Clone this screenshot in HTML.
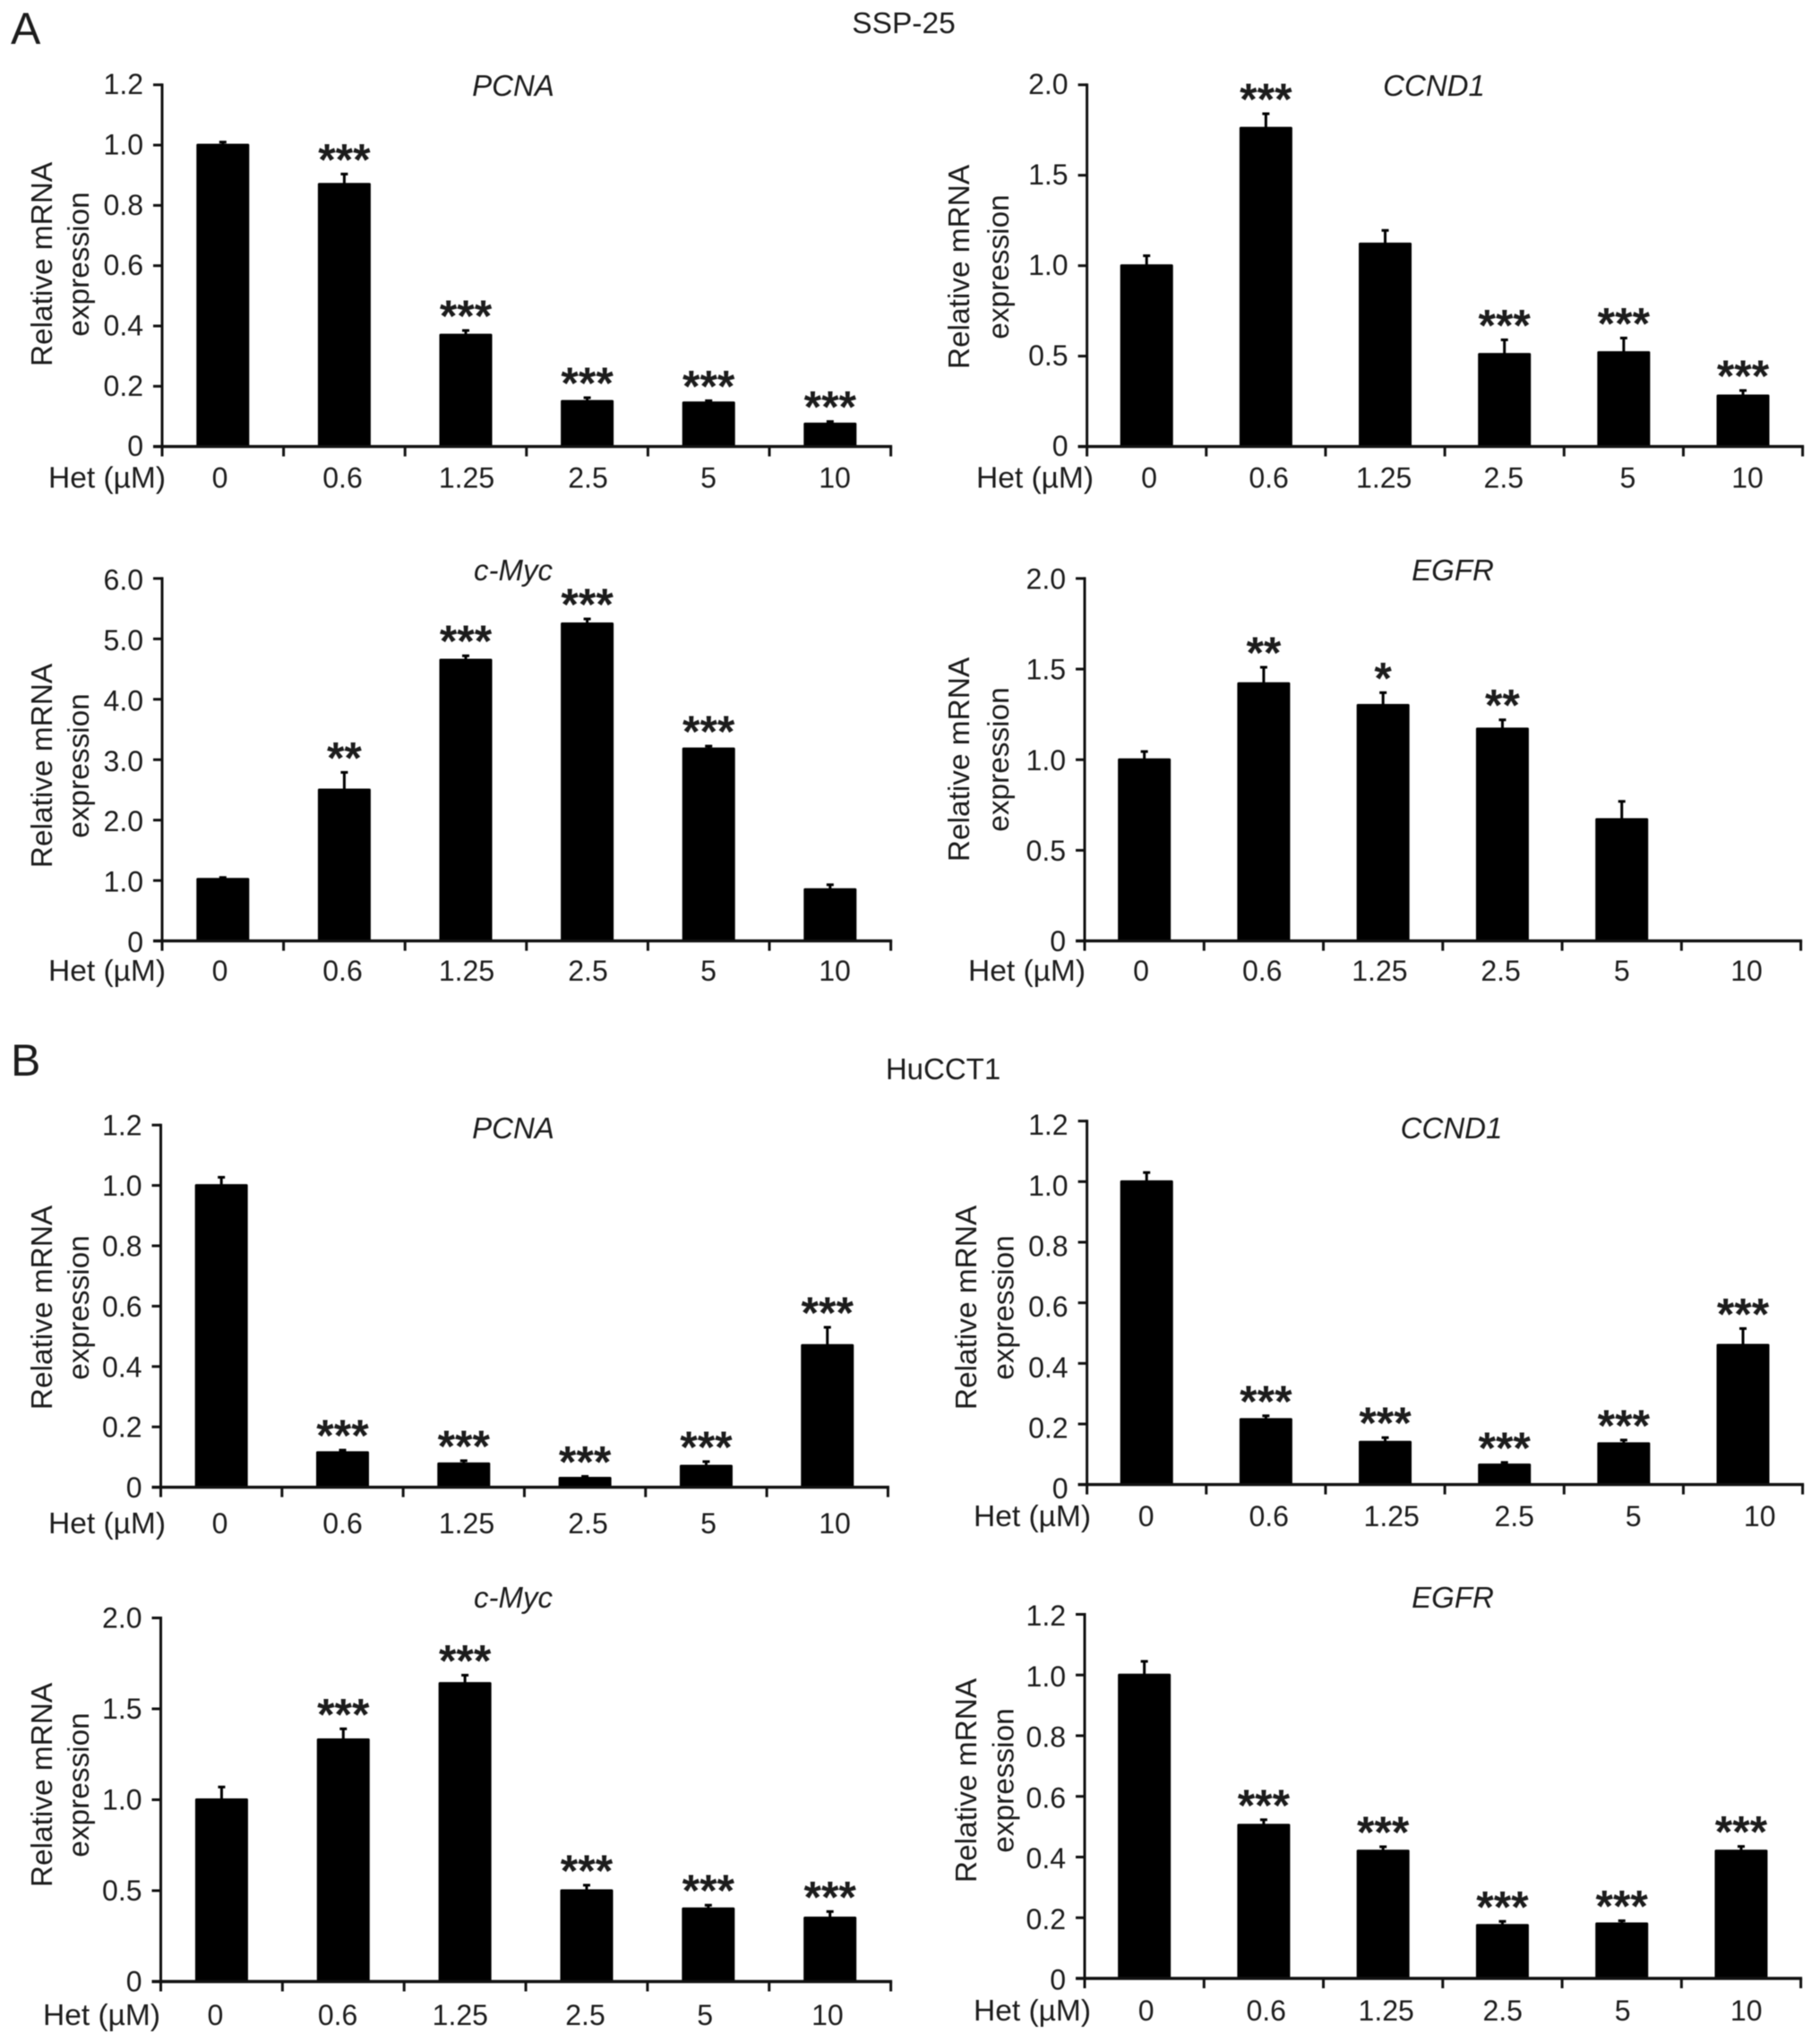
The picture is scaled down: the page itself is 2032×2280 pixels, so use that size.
<!DOCTYPE html>
<html lang="en">
<head>
<meta charset="utf-8">
<title>Relative mRNA expression in SSP-25 and HuCCT1</title>
<style>
html,body{margin:0;padding:0;background:#fff;}
#figure{display:block;width:2032px;height:2280px;font-family:"Liberation Sans",Arial,sans-serif;fill:#1c1c1c;filter:blur(0.5px);}
</style>
</head>
<body>
<svg id="figure" xmlns="http://www.w3.org/2000/svg" width="2032" height="2280" viewBox="0 0 2032 2280">
  <rect x="-5" y="-5" width="2042" height="2290" fill="#fff"/>
  <text x="12" y="49" font-size="50">A</text>
  <text x="12" y="1201" font-size="50">B</text>
  <text x="1009" y="37" font-size="33.5" text-anchor="middle">SSP-25</text>
  <text x="1053" y="1205" font-size="33" text-anchor="middle">HuCCT1</text>
</svg>
<script>
var doses = ['0', '0.6', '1.25', '2.5', '5', '10'];
var ticks12 = ['0', '0.2', '0.4', '0.6', '0.8', '1.0', '1.2'];
var ticks20 = ['0', '0.5', '1.0', '1.5', '2.0'];
var ticks60 = ['0', '1.0', '2.0', '3.0', '4.0', '5.0', '6.0'];

var sspPcnaValues = [1.0, 0.87, 0.37, 0.15, 0.145, 0.075];
var sspPcnaErrors = [0.01, 0.034, 0.015, 0.012, 0.007, 0.008];
var sspPcnaStars = ['', '***', '***', '***', '***', '***'];

var sspCcnd1Values = [1.0, 1.76, 1.12, 0.51, 0.52, 0.28];
var sspCcnd1Errors = [0.055, 0.08, 0.075, 0.08, 0.08, 0.03];
var sspCcnd1Stars = ['', '***', '', '***', '***', '***'];

var sspMycValues = [1.02, 2.5, 4.65, 5.25, 3.18, 0.85];
var sspMycErrors = [0.03, 0.29, 0.07, 0.08, 0.045, 0.08];
var sspMycStars = ['', '**', '***', '***', '***', ''];

var sspEgfrValues = [1.0, 1.42, 1.3, 1.17, 0.67, 0];
var sspEgfrErrors = [0.045, 0.09, 0.07, 0.05, 0.1, 0];
var sspEgfrStars = ['', '**', '*', '**', '', ''];

var hucPcnaValues = [1.0, 0.115, 0.078, 0.03, 0.07, 0.47];
var hucPcnaErrors = [0.027, 0.008, 0.01, 0.006, 0.015, 0.06];
var hucPcnaStars = ['', '***', '***', '***', '***', '***'];

var hucCcnd1Values = [1.0, 0.215, 0.14, 0.065, 0.135, 0.46];
var hucCcnd1Errors = [0.03, 0.012, 0.015, 0.008, 0.012, 0.055];
var hucCcnd1Stars = ['', '***', '***', '***', '***', '***'];

var hucMycValues = [1.0, 1.33, 1.64, 0.5, 0.4, 0.35];
var hucMycErrors = [0.07, 0.06, 0.045, 0.03, 0.02, 0.035];
var hucMycStars = ['', '***', '***', '***', '***', '***'];

var hucEgfrValues = [1.0, 0.505, 0.42, 0.175, 0.18, 0.42];
var hucEgfrErrors = [0.045, 0.018, 0.014, 0.013, 0.01, 0.015];
var hucEgfrStars = ['', '***', '***', '***', '***', '***'];

var panels = [
  {id: 'ssp25-pcna', gene: 'PCNA', values: sspPcnaValues, errors: sspPcnaErrors, stars: sspPcnaStars, ticks: ticks12,
   x0: 181, x1: 994.6, yTop: 94.7, yBase: 498.6, titleX: 573, titleY: 107, labelStart: 247, labelStep: 137, labelY: 544.6, hetX: 185, t1: 58, t2: 99, tY: 295, tickDy: -2, nudge: {0: -1.5, 1: -1.5, 3: -1.5, 4: -4}},
  {id: 'ssp25-ccnd1', gene: 'CCND1', values: sspCcnd1Values, errors: sspCcnd1Errors, stars: sspCcnd1Stars, ticks: ticks20,
   x0: 1213.6, x1: 2012.6, yTop: 94.7, yBase: 498.6, titleX: 1601, titleY: 107, labelStart: 1283, labelStep: 133.6, labelY: 544.6, hetX: 1221, t1: 1082, t2: 1126, tY: 298, tickDy: -2, nudge: {2: -5, 3: -5}},
  {id: 'ssp25-c-myc', gene: 'c-Myc', values: sspMycValues, errors: sspMycErrors, stars: sspMycStars, ticks: ticks60,
   x0: 181, x1: 994.6, yTop: 645.9, yBase: 1050.6, titleX: 573, titleY: 648, labelStart: 247, labelStep: 137, labelY: 1095, hetX: 185, t1: 58, t2: 99, tY: 855, tickDy: 0, nudge: {0: -1.5, 1: -1.5, 3: -1.5, 4: -4}},
  {id: 'ssp25-egfr', gene: 'EGFR', values: sspEgfrValues, errors: sspEgfrErrors, stars: sspEgfrStars, ticks: ticks20,
   x0: 1211, x1: 2010.6, yTop: 645.9, yBase: 1050.6, titleX: 1622, titleY: 648, labelStart: 1274, labelStep: 135.2, labelY: 1095, hetX: 1212, t1: 1082, t2: 1126, tY: 848, tickDy: -1, nudge: {2: -4, 3: -4, 4: -4}},
  {id: 'hucct1-pcna', gene: 'PCNA', values: hucPcnaValues, errors: hucPcnaErrors, stars: hucPcnaStars, ticks: ticks12,
   x0: 179.5, x1: 991.4, yTop: 1256.2, yBase: 1660.6, titleX: 573, titleY: 1271, labelStart: 247, labelStep: 137, labelY: 1712, hetX: 185, t1: 58, t2: 99, tY: 1460, tickDy: -1, nudge: {0: -1.5, 1: -1.5, 3: -1.5, 4: -4}},
  {id: 'hucct1-ccnd1', gene: 'CCND1', values: hucCcnd1Values, errors: hucCcnd1Errors, stars: hucCcnd1Stars, ticks: ticks12,
   x0: 1213.6, x1: 2012.6, yTop: 1251.7, yBase: 1657.6, titleX: 1620.5, titleY: 1271, labelStart: 1279.7, labelStep: 137, labelY: 1704, hetX: 1218, t1: 1090, t2: 1131.6, tY: 1460, tickDy: 3, nudge: {4: -4}},
  {id: 'hucct1-c-myc', gene: 'c-Myc', values: hucMycValues, errors: hucMycErrors, stars: hucMycStars, ticks: ticks20,
   x0: 179.5, x1: 994.6, yTop: 1806.5, yBase: 2212.5, titleX: 573, titleY: 1795, labelStart: 240.4, labelStep: 136.7, labelY: 2261, hetX: 179, t1: 58, t2: 99, tY: 1993, tickDy: -1.5, nudge: {3: 3}},
  {id: 'hucct1-egfr', gene: 'EGFR', values: hucEgfrValues, errors: hucEgfrErrors, stars: hucEgfrStars, ticks: ticks12,
   x0: 1211, x1: 2010.6, yTop: 1802.5, yBase: 2209, titleX: 1622, titleY: 1795, labelStart: 1279.7, labelStep: 134, labelY: 2256, hetX: 1218, t1: 1090, t2: 1131.6, tY: 1988, tickDy: 0, nudge: {3: -4, 4: -4}}
];

var SVG_NS = 'http://www.w3.org/2000/svg';
var figure = document.getElementById('figure');

function make(parent, tag, attrs, content) {
  var node = document.createElementNS(SVG_NS, tag);
  for (var key in attrs) { node.setAttribute(key, attrs[key]); }
  if (content !== undefined) { node.textContent = content; }
  parent.appendChild(node);
  return node;
}

function drawPanel(p) {
  var group = make(figure, 'g', {});
  
  

  var yMax = parseFloat(p.ticks[p.ticks.length - 1]);
  var yScale = function (v) { return p.yBase - (v / yMax) * (p.yBase - p.yTop); };
  var band = (p.x1 - p.x0) / doses.length;
  var xCenter = function (i) { return p.x0 + band * (i + 0.5); };
  var barWidth = 59;

  var title = make(group, 'text', {x: p.titleX, y: p.titleY, 'font-size': 33, 'font-style': 'italic', 'text-anchor': 'middle'}, p.gene);
  
  

  var titleA = make(group, 'text', {transform: 'translate(' + p.t1 + ',' + p.tY + ') rotate(-90)', 'font-size': 33.4, 'text-anchor': 'middle'}, 'Relative mRNA');
  
  

  var titleB = make(group, 'text', {transform: 'translate(' + p.t2 + ',' + p.tY + ') rotate(-90)', 'font-size': 33.4, 'text-anchor': 'middle'}, 'expression');
  
  

  p.values.forEach(function (value, i) {
    var cx = xCenter(i);
    var top = yScale(value);
    if (value > 0) {
      var errTop = yScale(value + p.errors[i]) - 1;

      var err = make(group, 'line', {x1: cx, x2: cx, y1: top, y2: errTop, stroke: '#000', 'stroke-width': 3});
      
      

      var cap = make(group, 'line', {x1: cx - 4, x2: cx + 4, y1: errTop + 1, y2: errTop + 1, stroke: '#000', 'stroke-width': 3});
      
      

      var bar = make(group, 'rect', {x: cx - barWidth / 2, y: top - 1.5, width: barWidth, height: p.yBase - top + 1.5, rx: 1.5, fill: '#000'});
      
      

      if (p.stars[i]) {
        var star = make(group, 'text', {x: cx, y: errTop + 2, 'font-size': 50, 'font-weight': 'bold', 'text-anchor': 'middle'}, p.stars[i]);
        
        
      }
    }
  });

  var yAxis = make(group, 'line', {x1: p.x0, x2: p.x0, y1: p.yTop - 1.5, y2: p.yBase, stroke: '#111', 'stroke-width': 3});
  
  

  var xAxis = make(group, 'line', {x1: p.x0 - 10, x2: p.x1 + 1.5, y1: p.yBase, y2: p.yBase, stroke: '#111', 'stroke-width': 3.4});
  
  

  p.ticks.forEach(function (label) {
    var ty = yScale(parseFloat(label));
    var tick = make(group, 'line', {x1: p.x0 - 10, x2: p.x0, y1: ty, y2: ty, stroke: '#111', 'stroke-width': 3});
    
    

    var text = make(group, 'text', {x: p.x0 - 21, y: ty + 12.5 + p.tickDy, 'font-size': 32, 'text-anchor': 'end'}, label);
    
    
  });

  for (var k = 0; k <= doses.length; k++) {
    var tx = p.x0 + band * k;
    var xTick = make(group, 'line', {x1: tx, x2: tx, y1: p.yBase, y2: p.yBase + 11, stroke: '#111', 'stroke-width': 3});
    
    
  }

  doses.forEach(function (dose, i) {
    var label = make(group, 'text', {x: p.labelStart + p.labelStep * i + (p.nudge[i] || 0), y: p.labelY, 'font-size': 32, 'text-anchor': 'middle'}, dose);
    
    
  });

  var het = make(group, 'text', {x: p.hetX, y: p.labelY, 'font-size': 33.5, 'text-anchor': 'end'}, 'Het (µM)');
  
  
}

panels.forEach(drawPanel);
</script>
</body>
</html>
